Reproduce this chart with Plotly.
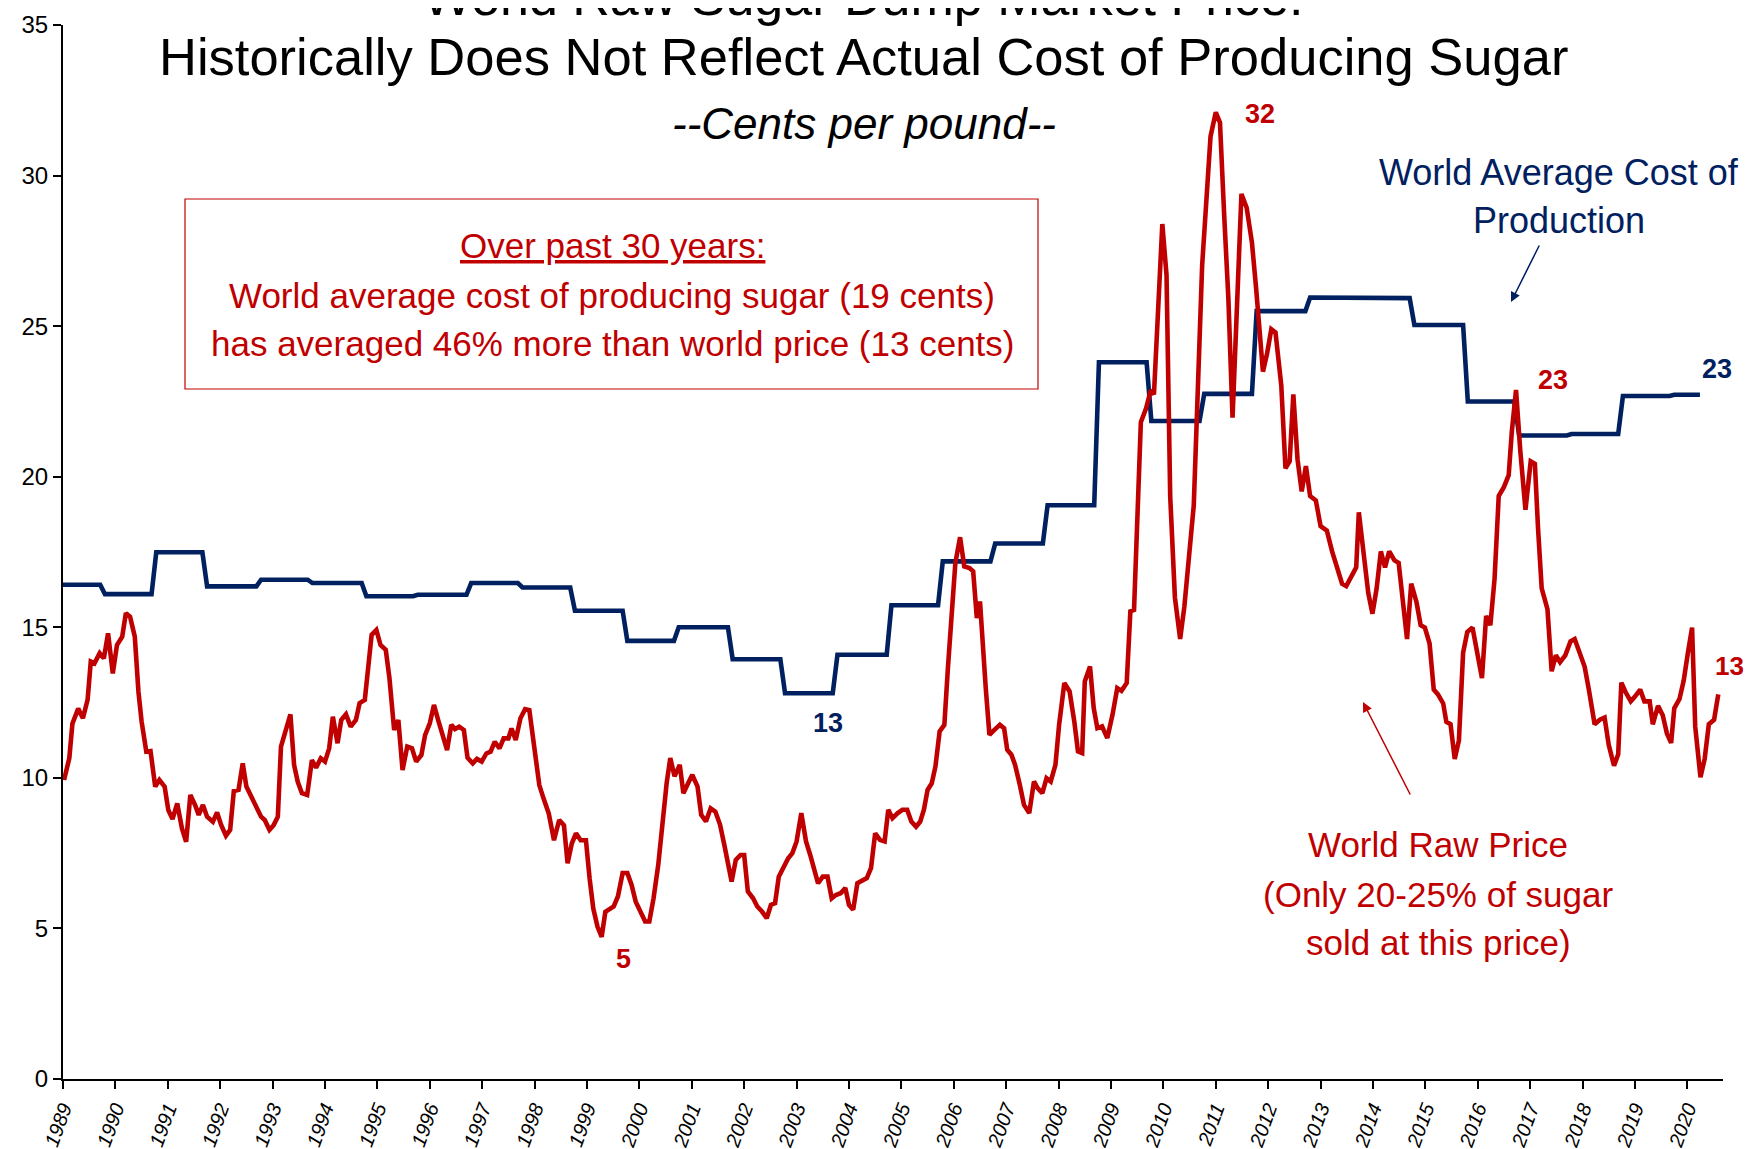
import plotly.graph_objects as go

# ---------------- data ----------------
price_x = [1989.02,1989.12,1989.18,1989.29,1989.38,1989.47,1989.53,1989.6,1989.7,1989.78,1989.86,1989.95,
1990.03,1990.13,1990.2,1990.28,1990.37,1990.44,1990.5,1990.59,1990.67,1990.76,1990.84,1990.94,
1991.01,1991.09,1991.18,1991.27,1991.35,1991.43,1991.52,1991.59,1991.67,1991.75,1991.86,1991.94,
1992.02,1992.11,1992.19,1992.26,1992.35,1992.43,1992.5,1992.6,1992.7,1992.78,1992.85,1992.94,
1993.02,1993.1,1993.16,1993.24,1993.34,1993.41,1993.48,1993.56,1993.66,1993.75,1993.83,1993.92,
1994.0,1994.08,1994.15,1994.24,1994.31,1994.4,1994.49,1994.59,1994.66,1994.76,1994.83,1994.89,1994.98,
1995.06,1995.16,1995.23,1995.32,1995.4,1995.48,1995.57,1995.66,1995.74,1995.84,1995.91,
1996.0,1996.08,1996.16,1996.25,1996.33,1996.41,1996.48,1996.56,1996.65,1996.72,1996.82,1996.9,1996.99,
1997.08,1997.16,1997.24,1997.33,1997.41,1997.5,1997.56,1997.64,1997.73,1997.82,1997.9,
1998.0,1998.09,1998.17,1998.27,1998.37,1998.47,1998.56,1998.63,1998.71,1998.79,1998.88,1998.98,
1999.05,1999.12,1999.2,1999.28,1999.35,1999.43,1999.51,1999.59,1999.68,1999.77,1999.85,1999.93,
2000.02,2000.11,2000.19,2000.27,2000.36,2000.45,2000.52,2000.59,2000.67,2000.77,2000.84,2000.93,
2001.01,2001.11,2001.18,2001.27,2001.36,2001.45,2001.54,2001.62,2001.69,2001.76,2001.84,2001.93,
2002.0,2002.07,2002.17,2002.25,2002.34,2002.43,2002.51,2002.59,2002.66,2002.75,2002.84,2002.92,
2003.0,2003.09,2003.18,2003.26,2003.33,2003.41,2003.5,2003.59,2003.67,2003.75,2003.84,2003.93,
2004.0,2004.08,2004.16,2004.25,2004.34,2004.42,2004.5,2004.59,2004.68,2004.75,2004.83,2004.93,
2005.02,2005.11,2005.19,2005.28,2005.36,2005.43,2005.5,2005.58,2005.65,2005.73,2005.82,2005.89,2005.96,
2006.03,2006.12,2006.2,2006.3,2006.37,2006.44,2006.5,2006.61,2006.68,2006.78,2006.88,2006.96,
2007.02,2007.1,2007.17,2007.26,2007.34,2007.44,2007.53,2007.6,2007.69,2007.77,2007.85,2007.94,
2008.01,2008.11,2008.21,2008.3,2008.37,2008.45,2008.5,2008.6,2008.67,2008.74,2008.83,2008.93,
2009.03,2009.12,2009.2,2009.3,2009.37,2009.44,2009.49,2009.57,2009.67,2009.76,2009.82,2009.89,2009.98,
2010.06,2010.13,2010.22,2010.32,2010.4,2010.5,2010.58,2010.66,2010.74,2010.82,2010.9,
2011.0,2011.08,2011.16,2011.24,2011.32,2011.4,2011.49,2011.59,2011.69,2011.77,2011.83,2011.9,2011.98,
2012.06,2012.14,2012.25,2012.33,2012.41,2012.48,2012.56,2012.64,2012.72,2012.8,2012.91,
2013.0,2013.12,2013.22,2013.32,2013.41,2013.49,2013.6,2013.68,2013.73,2013.83,2013.91,2013.99,
2014.07,2014.15,2014.23,2014.31,2014.41,2014.49,2014.57,2014.65,2014.73,2014.83,2014.91,2014.99,
2015.08,2015.16,2015.24,2015.34,2015.4,2015.48,2015.56,2015.64,2015.72,2015.8,2015.9,2015.98,
2016.08,2016.16,2016.24,2016.32,2016.4,2016.5,2016.59,2016.65,2016.73,2016.81,2016.91,
2017.01,2017.09,2017.15,2017.22,2017.33,2017.41,2017.49,2017.57,2017.67,2017.77,2017.85,2017.94,
2018.04,2018.12,2018.23,2018.33,2018.42,2018.5,2018.6,2018.68,2018.74,2018.82,2018.92,
2019.0,2019.1,2019.18,2019.28,2019.34,2019.44,2019.53,2019.61,2019.69,2019.75,2019.85,2019.93,
2020.01,2020.09,2020.15,2020.25,2020.33,2020.41,2020.51,2020.59]

price_y = [9.93,10.65,11.8,12.3,11.98,12.6,13.86,13.8,14.14,13.97,14.8,13.47,
14.41,14.69,15.47,15.35,14.69,12.86,11.87,10.87,10.89,9.71,9.93,9.71,
8.93,8.63,9.15,8.32,7.88,9.43,9.1,8.77,9.1,8.71,8.54,8.85,
8.43,8.08,8.27,9.56,9.6,10.48,9.71,9.32,8.93,8.71,8.6,8.27,
8.43,8.71,11.04,11.53,12.11,10.43,9.87,9.49,9.43,10.59,10.34,10.65,
10.54,10.98,12.03,11.15,11.92,12.11,11.7,11.92,12.48,12.59,13.64,14.75,14.91,
14.41,14.25,13.31,11.59,11.92,10.26,11.04,10.98,10.54,10.76,11.42,
11.81,12.42,11.92,11.31,10.92,11.76,11.62,11.7,11.59,10.67,10.48,10.63,10.54,
10.81,10.87,11.2,10.98,11.31,11.31,11.64,11.26,11.98,12.28,12.25,
10.98,9.76,9.32,8.82,7.93,8.6,8.43,7.16,7.82,8.16,7.93,7.93,
6.66,5.66,5.06,4.72,5.55,5.65,5.73,6.06,6.84,6.84,6.45,5.89,
5.51,5.23,5.23,6.0,7.11,8.66,9.82,10.66,10.05,10.43,9.49,9.82,
10.1,9.71,8.77,8.55,8.99,8.88,8.44,7.78,7.22,6.56,7.28,7.44,
7.44,6.23,6.0,5.73,5.56,5.34,5.78,5.84,6.72,7.06,7.33,7.5,
7.89,8.83,7.89,7.44,7.0,6.5,6.72,6.72,6.0,6.11,6.17,6.34,
5.78,5.62,6.5,6.58,6.67,7.0,8.16,7.94,7.89,8.94,8.66,8.83,
8.94,8.94,8.55,8.38,8.55,8.94,9.6,9.82,10.38,11.54,11.76,13.7,15.53,
17.13,17.99,17.02,16.97,16.86,15.31,15.86,12.98,11.43,11.6,11.76,11.65,
10.93,10.77,10.43,9.77,9.1,8.83,9.88,9.66,9.49,9.99,9.88,10.43,
11.76,13.15,12.87,11.87,10.88,10.82,13.2,13.7,12.32,11.65,11.71,11.32,
12.1,12.98,12.89,13.15,15.53,15.58,17.67,21.81,22.27,22.88,22.73,25.18,28.39,
26.7,19.36,15.99,14.61,15.68,17.37,19.05,23.03,27.02,29.16,31.3,
32.1,31.76,28.7,25.94,21.96,25.48,29.39,28.93,27.78,26.25,24.72,23.49,24.1,
24.9,24.79,23.03,20.28,20.51,22.73,20.58,19.51,20.35,19.36,19.21,
18.36,18.21,17.52,16.91,16.45,16.37,16.76,16.99,18.82,17.37,16.14,15.45,
16.29,17.52,16.99,17.52,17.22,17.14,15.84,14.61,16.45,15.84,15.07,14.99,
14.46,12.93,12.77,12.47,11.86,11.78,10.63,11.24,14.15,14.84,14.99,14.15,
13.31,15.38,15.07,16.6,19.36,19.66,20.05,21.5,22.88,20.89,18.9,
20.51,20.43,18.29,16.29,15.6,13.54,14.07,13.84,14.07,14.53,14.61,14.15,
13.69,12.93,11.78,11.93,12.0,11.09,10.4,10.78,13.16,12.85,12.54,
12.7,12.93,12.54,12.54,11.78,12.39,12.08,11.47,11.16,12.31,12.62,13.23,
14.15,14.99,11.7,10.02,10.63,11.78,11.93,12.77]

# world average cost of production: level and the (decimal-year) date it begins
cost_start = [1989.0,1989.75,1990.73,1991.7,1992.73,1993.71,1994.74,1995.72,1996.74,1997.72,
              1998.72,1999.72,2000.7,2001.73,2002.73,2003.73,2004.76,2005.74,2006.74,2007.74,
              2008.72,2009.72,2010.73,2011.73,2012.75,2013.73,2014.74,2015.76,2016.74,2017.74,
              2018.72,2019.7]
cost_end = 2020.24
cost_values = [16.41,16.10,17.49,16.36,16.58,16.47,16.03,16.08,16.47,16.32,
               15.55,14.55,15.00,13.94,12.81,14.09,15.73,17.19,17.78,19.05,
               23.80,21.85,22.75,25.50,25.95,25.93,25.04,22.50,21.37,21.42,
               22.68,22.72]

year_ticks = list(range(1989, 2021))
year_labels = [str(y) for y in year_ticks]

RED = "#C00000"
NAVY = "#002060"
NARROW = "Liberation Sans Narrow, Arial Narrow, Liberation Sans, Arial, sans-serif"

# step-line coordinates for the cost series (short one-month ramps between levels)
cx, cy = [], []
for i, v in enumerate(cost_values):
    s = cost_start[i] + (0.05 if i > 0 else 0.0)
    e = (cost_start[i + 1] - 0.04) if i + 1 < len(cost_start) else cost_end
    cx += [s, e]
    cy += [v, v]

fig = go.Figure()
fig.add_trace(go.Scatter(x=cx, y=cy, mode="lines",
                         line=dict(color=NAVY, width=4.6), name="World Average Cost of Production"))
fig.add_trace(go.Scatter(x=price_x, y=price_y, mode="lines",
                         line=dict(color=RED, width=4.6), name="World Raw Price"))

# the page body adds an 8px offset, so the figure is 8px smaller and all page
# positions below are converted with that offset
OFF = 8
W, H = 1752 - OFF, 1149 - OFF
L, R, T, B = 55, 29, 17, 70
PW, PH = W - L - R, H - T - B


def px(X, Y):
    return (X - OFF - L) / PW, (H - B - (Y - OFF)) / PH


def add_text(text, X, Y, size, color="black", bold=False, italic=False):
    xp, yp = px(X, Y)
    fig.add_annotation(x=xp, y=yp, xref="paper", yref="paper", text=text, showarrow=False,
                       xanchor="center", yanchor="middle", align="center",
                       font=dict(family=NARROW, size=size, color=color,
                                 weight="bold" if bold else "normal",
                                 style="italic" if italic else "normal"))


# titles
add_text("World Raw Sugar Dump Market Price:", 863, -3, 52)
add_text("Historically Does Not Reflect Actual Cost of Producing Sugar", 863, 56, 52.5)
add_text("--Cents per pound--", 864, 123, 44, italic=True)

# box with note
x0, y0 = px(185, 199)
x1, y1 = px(1038, 389)
fig.add_shape(type="rect", xref="paper", yref="paper", x0=x0, y0=y0, x1=x1, y1=y1,
              line=dict(color=RED, width=1.2), fillcolor="rgba(0,0,0,0)")
add_text("<u>Over past 30 years:</u>", 612, 245, 35, color=RED)
add_text("World average cost of producing sugar (19 cents)", 612, 295, 35, color=RED)
add_text("has averaged 46% more than world price (13 cents)", 612, 343, 35, color=RED)

# series labels
add_text("World Average Cost of", 1559, 173, 36, color=NAVY)
add_text("Production", 1559, 221, 36, color=NAVY)
add_text("World Raw Price", 1438, 844, 35, color=RED)
add_text("(Only 20-25% of sugar", 1438, 894, 35, color=RED)
add_text("sold at this price)", 1438, 942, 35, color=RED)

# value labels
add_text("32", 1260, 114, 27, color=RED, bold=True)
add_text("5", 623, 959, 27, color=RED, bold=True)
add_text("13", 828, 723, 27, color=NAVY, bold=True)
add_text("23", 1553, 380, 27, color=RED, bold=True)
add_text("23", 1717, 369, 27, color=NAVY, bold=True)
add_text("13", 1729, 666, 26, color=RED, bold=True)


# arrows
def add_arrow(tail, head, color):
    xp, yp = px(*head)
    fig.add_annotation(x=xp, y=yp, xref="paper", yref="paper", text="", showarrow=True,
                       ax=tail[0] - head[0], ay=tail[1] - head[1], axref="pixel", ayref="pixel",
                       arrowhead=2, arrowsize=1.3, arrowwidth=1.5, arrowcolor=color, standoff=0)


add_arrow((1540, 244), (1511, 302), NAVY)
add_arrow((1411, 796), (1363, 702), RED)

fig.update_layout(
    width=W, height=H, margin=dict(l=L, r=R, t=T, b=B, autoexpand=False),
    paper_bgcolor="white", plot_bgcolor="white", showlegend=False,
    font=dict(family=NARROW, color="black"),
)
fig.update_xaxes(range=[1989, 2020.68], tickmode="array", tickvals=year_ticks, ticktext=year_labels,
                 tickangle=-70, automargin=False,
                 tickfont=dict(family="Liberation Sans, Arial, sans-serif", size=20,
                               style="italic", color="black"),
                 showline=True, linecolor="black", linewidth=2, ticks="outside", ticklen=8,
                 tickwidth=1.5, tickcolor="black", showgrid=False, zeroline=False)
fig.update_yaxes(range=[0, 35], dtick=5, automargin=False,
                 tickfont=dict(family=NARROW, size=24, color="black"),
                 showline=True, linecolor="black", linewidth=2, ticks="outside", ticklen=8,
                 tickwidth=1.5, tickcolor="black", showgrid=False, zeroline=False)

fig.write_html("out.html")
